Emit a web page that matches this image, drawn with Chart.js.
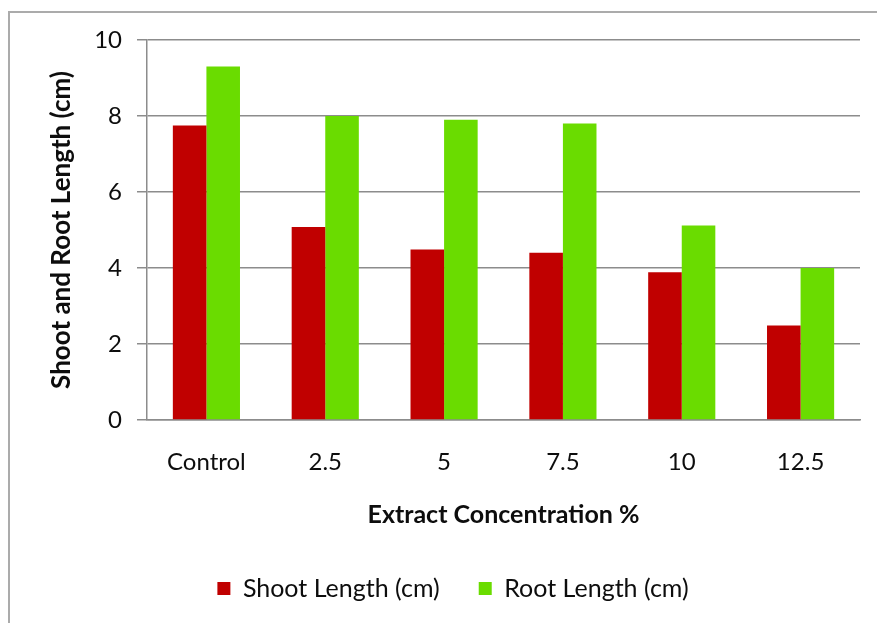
<!DOCTYPE html>
<html>
<head>
<meta charset="utf-8">
<script src="https://cdn.jsdelivr.net/npm/chart.js@4/dist/chart.umd.min.js"></script>
<style>
  html, body { margin: 0; padding: 0; background: #fff; }
  #wrap { position: relative; width: 877px; height: 623px; }
  #frame { position: absolute; left: 8px; top: 11px; width: 900px; height: 640px;
           border-left: 2px solid #ababab; border-top: 2px solid #ababab; }
  canvas { position: absolute; left: 0; top: 0; }
</style>
</head>
<body>
<div id="wrap">
  <div id="frame"></div>
  <canvas id="chart" width="877" height="623"></canvas>
</div>
<script>
// Seedling growth under increasing extract concentration
const categories = ['Control', '2.5', '5', '7.5', '10', '12.5'];
const shootLength = [7.75, 5.08, 4.49, 4.40, 3.89, 2.49];
const rootLength  = [9.30, 8.00, 7.90, 7.80, 5.12, 4.00];
const seriesNames = ['Shoot Length (cm)', 'Root Length (cm)'];
const yTicks = [0, 2, 4, 6, 8, 10];

const FONT = 'Lato, "Open Sans", sans-serif';
const GRID = '#8c8c8c';
const INK = '#0d0d0d';

new Chart(document.getElementById('chart'), {
  type: 'bar',
  data: {
    labels: categories,
    datasets: [
      { label: seriesNames[0], data: shootLength, backgroundColor: '#c00000',
        barPercentage: 1.0, categoryPercentage: 0.565 },
      { label: seriesNames[1], data: rootLength, backgroundColor: '#6adc00',
        barPercentage: 1.0, categoryPercentage: 0.565 }
    ]
  },
  options: {
    responsive: false,
    animation: false,
    layout: { padding: { left: 46, right: 17, top: 40, bottom: 12 } },
    plugins: {
      tooltip: { enabled: false },
      legend: {
        position: 'bottom',
        labels: {
          boxWidth: 13, boxHeight: 13, padding: 39,
          color: INK, font: { family: FONT, size: 25 }
        }
      }
    },
    scales: {
      x: {
        grid: { display: false, drawTicks: false },
        border: { display: true, color: GRID, width: 1.5 },
        ticks: { color: INK, font: { family: FONT, size: 24 }, padding: 28, maxRotation: 0 },
        title: { display: true, text: 'Extract Concentration %', color: INK,
                 font: { family: FONT, size: 25, weight: 'bold' }, padding: { top: 0, bottom: 7 } },
        afterFit: s => { s.height = 117; }
      },
      y: {
        min: 0, max: 10,
        afterBuildTicks: s => { s.ticks = yTicks.map(v => ({ value: v })); },
        grid: { color: GRID, lineWidth: 1.5, tickLength: 10, drawTicks: true },
        border: { display: true, color: GRID, width: 1.5 },
        ticks: { color: INK, font: { family: FONT, size: 24 }, padding: 15 },
        title: { display: true, text: 'Shoot and Root Length (cm)', color: INK,
                 font: { family: FONT, size: 26, weight: 'bold' }, padding: { top: 0, bottom: 0 } },
        afterFit: s => { s.width = 101; }
      }
    }
  }
});
</script>
</body>
</html>
